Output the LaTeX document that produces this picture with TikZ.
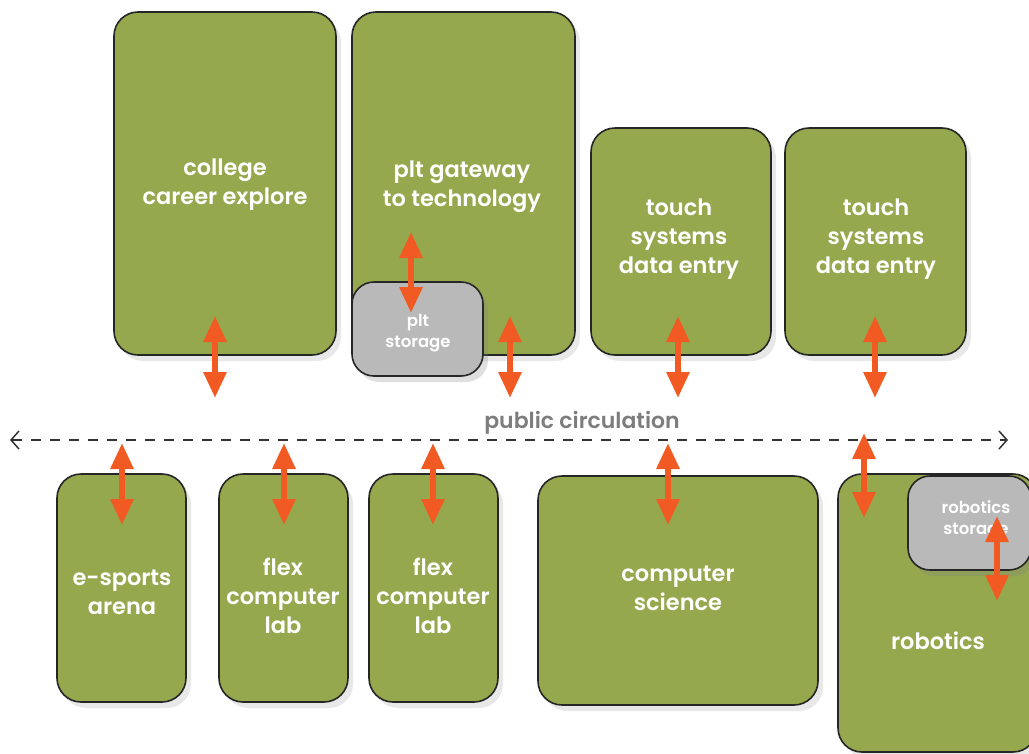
\documentclass[tikz,border=0pt]{standalone}
\usepackage{fontspec}
\setmainfont{Poppins}[BoldFont={Poppins SemiBold}]
\usetikzlibrary{arrows.meta,shadows}
\definecolor{boxgreen}{RGB}{149,168,78}
\definecolor{boxgray}{RGB}{185,185,185}
\definecolor{arrorange}{RGB}{241,90,34}
\definecolor{labgray}{RGB}{125,125,125}
\tikzset{
  room/.style={draw=black!85, line width=1.6pt, fill=boxgreen, rounded corners=24pt,
    drop shadow={opacity=0.18, shadow xshift=5pt, shadow yshift=-6pt}},
  store/.style={draw=black!85, line width=1.6pt, fill=boxgray, rounded corners=22pt,
    drop shadow={opacity=0.25, shadow xshift=5pt, shadow yshift=-6pt}},
  lbl/.style={text=white, font=\fontsize{22.5}{29}\selectfont\bfseries, align=center},
  slbl/.style={text=white, font=\fontsize{16.5}{21}\selectfont\bfseries, align=center},
  dbl/.style={draw=arrorange, line width=6pt, {Triangle[width=22pt,length=26pt]}-{Triangle[width=22pt,length=26pt]}},
  circ/.style={draw=black!80, line width=1.5pt, dash pattern=on 10pt off 9pt, {Straight Barb[length=8pt,width=18pt,line width=1.5pt]}-{Straight Barb[length=8pt,width=18pt,line width=1.5pt]}}
}
\begin{document}
\begin{tikzpicture}[x=1pt,y=-1pt]
\useasboundingbox (0,0) rectangle (1029,753);
\clip (0,0) rectangle (1029,753);
% top rooms
\draw[room] (114,12) rectangle (336,355);
\node[lbl] (college) at (225,185) {college\\career explore};
\draw[room] (352,12) rectangle (575,355);
\node[lbl] (plt) at (462,187) {plt gateway\\to technology};
\draw[store] (352,282) rectangle (483,376);
\node[slbl] (pltst) at (418,333) {plt\\storage};
\draw[room] (591,128) rectangle (771,355);
\node[lbl] (touch1) at (679,239) {touch\\systems\\data entry};
\draw[room] (785,128) rectangle (966,355);
\node[lbl] (touch2) at (876,239) {touch\\systems\\data entry};
% bottom rooms
\draw[room] (57,474) rectangle (186,702);
\node[lbl] (esports) at (122,592) {e-sports\\arena};
\draw[room] (219,474) rectangle (348,702);
\node[lbl] (flex1) at (283,596) {flex\\computer\\lab};
\draw[room] (369,474) rectangle (498,702);
\node[lbl] (flex2) at (433,596) {flex\\computer\\lab};
\draw[room] (538,476) rectangle (818,705);
\node[lbl] (cs) at (678,588) {computer\\science};
\draw[room] (838,474) rectangle (1037,752);
\node[lbl] (robotics) at (938,641) {robotics};
\draw[store] (908,476) rectangle (1031,570);
\node[slbl] (robst) at (976,520) {robotics\\storage};
% circulation
\coordinate (cl) at (10,440);
\coordinate (cr) at (1008,440);
\draw[circ] (cl) -- (cr);
\node[text=labgray, font=\fontsize{22}{26}\selectfont\bfseries] (pc) at (582,423) {public circulation};
% arrows
\foreach \x/\a/\b in {215/316/398, 411/232/313, 510/316/398, 678/316/398, 875/316/398,
  122/443/525, 284/443/525, 433/443/525, 668/443/525, 864/433/518, 997/516/601}{
  \coordinate (p1) at (\x,\a);
  \coordinate (p2) at (\x,\b);
  \draw[dbl] (p1) -- (p2);
}
\end{tikzpicture}
\end{document}
